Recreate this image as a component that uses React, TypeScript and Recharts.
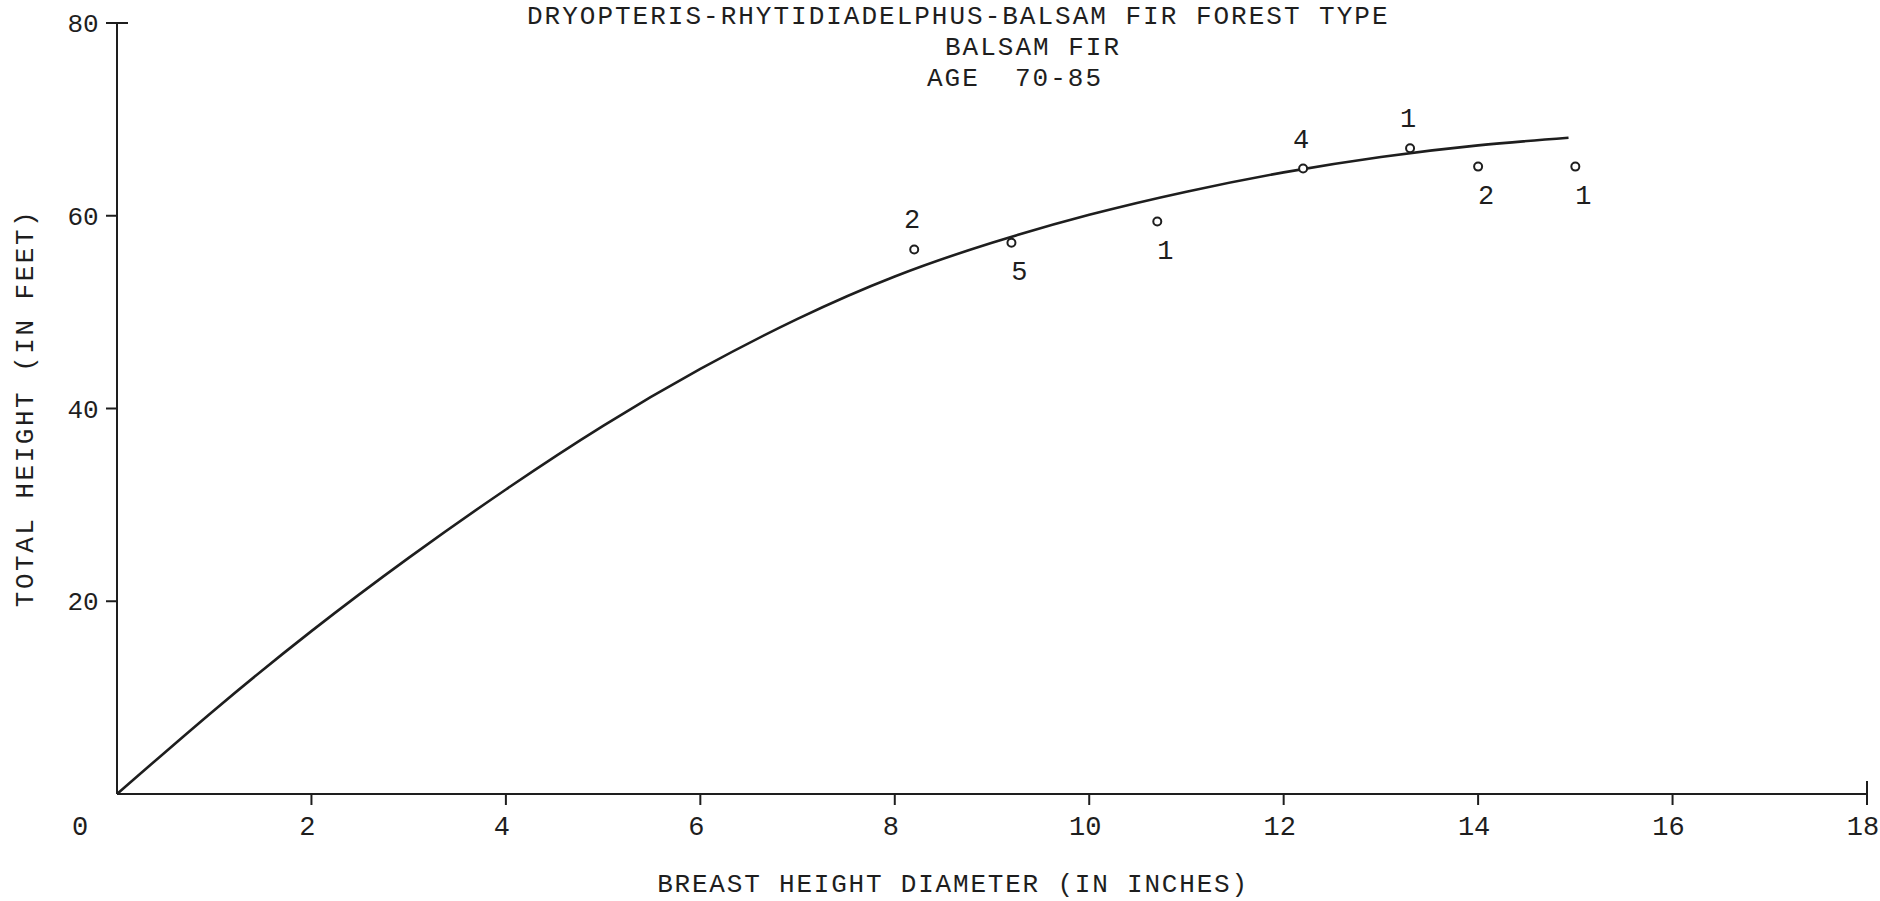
import { ComposedChart, Line, Scatter, XAxis, YAxis, Label } from 'recharts';

// fitted height curve
const curveDbh = [0, 1, 2, 3, 4, 5, 6, 7, 8, 9, 10, 11, 12, 13, 14, 14.93];
const curveHeight = [0, 8.7, 16.9, 24.5, 31.6, 38.2, 44.1, 49.3, 53.7, 57.2, 60.1, 62.5, 64.5, 66.1, 67.3, 68.1];

// plotted averages and number of trees behind each
const pointDbh = [8.2, 9.2, 10.7, 12.2, 13.3, 14.0, 15.0];
const pointHeight = [56.5, 57.2, 59.4, 64.9, 67.0, 65.1, 65.1];
const pointCount = [2, 5, 1, 4, 1, 2, 1];

const xTicks = [0, 2, 4, 6, 8, 10, 12, 14, 16, 18];
const yTicks = [20, 40, 60, 80];

const titleLines = [
  'DRYOPTERIS-RHYTIDIADELPHUS-BALSAM FIR FOREST TYPE',
  'BALSAM FIR',
  'AGE  70-85',
];

const curve = curveDbh.map((d, i) => ({ d, h: curveHeight[i] }));
const points = pointDbh.map((d, i) => ({ d, h: pointHeight[i], n: pointCount[i] }));

const INK = '#1e1e1e';
const MONO = '"Liberation Mono", "DejaVu Sans Mono", monospace';

function curveAt(d: number) {
  for (let i = 1; i < curve.length; i++) {
    if (d <= curve[i].d) {
      const a = curve[i - 1];
      const b = curve[i];
      return a.h + ((d - a.d) / (b.d - a.d)) * (b.h - a.h);
    }
  }
  return curve[curve.length - 1].h;
}

function XTick({ x, y, payload }: any) {
  const v = payload.value;
  if (v === 0) {
    return (
      <text x={x - 37} y={y + 41} textAnchor="middle" fontFamily={MONO} fontSize={27} fill={INK}>
        0
      </text>
    );
  }
  return (
    <g>
      <line x1={x} x2={x} y1={v === 18 ? y - 13 : y} y2={y + 11} stroke={INK} strokeWidth={2} />
      <text x={x - 4} y={y + 41} textAnchor="middle" fontFamily={MONO} fontSize={27} fill={INK}>
        {v}
      </text>
    </g>
  );
}

function YTick({ x, y, payload }: any) {
  const v = payload.value;
  return (
    <g>
      <line x1={x - 11} x2={v === 80 ? x + 11 : x} y1={y} y2={y} stroke={INK} strokeWidth={2} />
      <text x={x - 34} y={y + 9} textAnchor="middle" fontFamily={MONO} fontSize={26} fill={INK}>
        {v}
      </text>
    </g>
  );
}

function Dot(props: any) {
  const { cx, cy, payload } = props;
  const above = payload.h >= curveAt(payload.d);
  return (
    <g>
      <circle cx={cx} cy={cy} r={4} fill="#fff" stroke={INK} strokeWidth={2} />
      <text
        x={above ? cx - 2 : cx + 8}
        y={above ? cy - 21 : cy + 37}
        textAnchor="middle"
        fontFamily={MONO}
        fontSize={27}
        fill={INK}
      >
        {payload.n}
      </text>
    </g>
  );
}

export default function App() {
  return (
    <div style={{ position: 'absolute', left: 0, top: 0, width: 1880, height: 901, background: '#fff' }}>
      {titleLines.map((t, i) => (
        <div
          key={i}
          style={{
            position: 'absolute',
            left: [527, 945, 927][i],
            top: 2 + i * 31,
            fontFamily: MONO,
            fontSize: 26,
            letterSpacing: 2,
            lineHeight: '31px',
            whiteSpace: 'pre',
            color: INK,
          }}
        >
          {t}
        </div>
      ))}
      <ComposedChart width={1880} height={901} margin={{ top: 23, right: 13, left: 0, bottom: 0 }}>
        <XAxis
          type="number"
          dataKey="d"
          domain={[0, 18]}
          ticks={xTicks}
          interval={0}
          height={107}
          tickSize={0}
          tickMargin={0}
          tickLine={false}
          tick={<XTick />}
          axisLine={{ stroke: INK, strokeWidth: 2 }}
        >
          <Label
            content={({ viewBox }: any) => (
              <text
                x={viewBox.x + 836}
                y={viewBox.y + 98}
                textAnchor="middle"
                fontFamily={MONO}
                fontSize={26}
                letterSpacing={1.8}
                fill={INK}
              >
                BREAST HEIGHT DIAMETER (IN INCHES)
              </text>
            )}
          />
        </XAxis>
        <YAxis
          type="number"
          dataKey="h"
          domain={[0, 80]}
          ticks={yTicks}
          interval={0}
          width={117}
          tickSize={0}
          tickMargin={0}
          tickLine={false}
          tick={<YTick />}
          axisLine={{ stroke: INK, strokeWidth: 2 }}
        >
          <Label
            content={({ viewBox }: any) => (
              <text
                x={33}
                y={viewBox.y + 385}
                transform={`rotate(-90 33 ${viewBox.y + 385})`}
                textAnchor="middle"
                fontFamily={MONO}
                fontSize={26}
                letterSpacing={2.5}
                fill={INK}
              >
                TOTAL HEIGHT (IN FEET)
              </text>
            )}
          />
        </YAxis>
        <Line
          data={curve}
          dataKey="h"
          type="natural"
          stroke={INK}
          strokeWidth={2.6}
          dot={false}
          activeDot={false}
          isAnimationActive={false}
        />
        <Scatter data={points} dataKey="h" shape={<Dot />} isAnimationActive={false} />
      </ComposedChart>
    </div>
  );
}
